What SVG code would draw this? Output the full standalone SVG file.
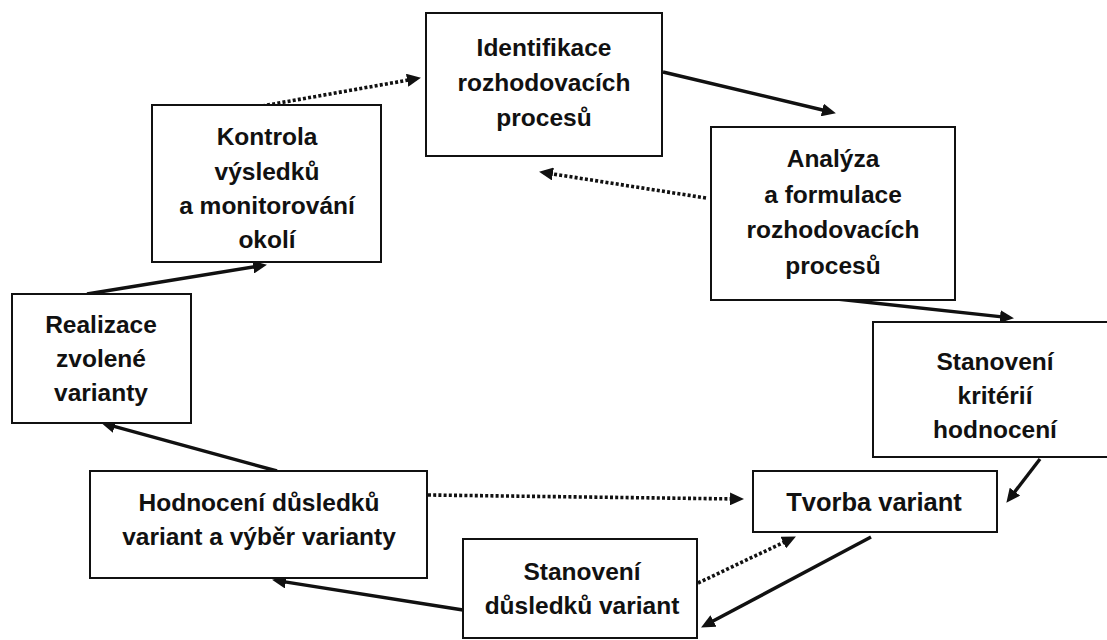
<svg xmlns="http://www.w3.org/2000/svg" width="1107" height="640" viewBox="0 0 1107 640">
<style>
.box{fill:#fff;stroke:#111;stroke-width:2}
.t{font-family:"Liberation Sans",Arial,sans-serif;font-weight:bold;font-size:24.5px;fill:#111;text-anchor:middle;dominant-baseline:central}
.solid{fill:none;stroke:#111;stroke-width:3.4;marker-end:url(#ah)}
.dot{fill:none;stroke:#111;stroke-width:3.6;stroke-dasharray:3 2.2;marker-end:url(#ah)}
</style>
<defs>
<marker id="ah" markerUnits="userSpaceOnUse" markerWidth="15" markerHeight="13" refX="9" refY="6.5" orient="auto">
<path d="M0,0 L14,6.5 L0,13 z" fill="#111"/>
</marker>
</defs>
<rect width="1107" height="640" fill="#fff"/>
<g id="connectors">
<line class="solid" x1="663" y1="72" x2="831" y2="112"/>
<line class="solid" x1="837" y1="299" x2="1009" y2="317.6"/>
<line class="solid" x1="1040" y1="459" x2="1009.4" y2="498.8"/>
<line class="solid" x1="871" y1="537" x2="705.5" y2="625.1"/>
<line class="solid" x1="463" y1="610" x2="277" y2="580.6"/>
<line class="solid" x1="277" y1="471" x2="105.9" y2="424.1"/>
<line class="solid" x1="87" y1="294" x2="262" y2="265.6"/>
<line class="dot" x1="262" y1="106" x2="416" y2="78.7"/>
<line class="dot" x1="706" y1="198" x2="544" y2="172.6"/>
<line class="dot" x1="428" y1="495" x2="739" y2="499"/>
<line class="dot" x1="698" y1="583" x2="791.4" y2="538.7"/>
</g>
<g id="identifikace">
<rect class="box" x="426" y="13" width="236" height="143"/>
<text class="t" x="544" y="47">Identifikace</text>
<text class="t" x="544" y="82">rozhodovacích</text>
<text class="t" x="544" y="117">procesů</text>
</g>
<g id="analyza">
<rect class="box" x="711" y="127" width="244" height="173"/>
<text class="t" x="833" y="158">Analýza</text>
<text class="t" x="833" y="194">a formulace</text>
<text class="t" x="833" y="229">rozhodovacích</text>
<text class="t" x="833" y="265">procesů</text>
</g>
<g id="kriteria">
<rect class="box" x="873" y="322" width="250" height="135"/>
<text class="t" x="995" y="361">Stanovení</text>
<text class="t" x="995" y="395">kritérií</text>
<text class="t" x="995" y="429">hodnocení</text>
</g>
<g id="tvorba">
<rect class="box" x="753" y="471" width="244" height="61"/>
<text class="t" x="874" y="502" style="font-size:25.5px">Tvorba variant</text>
</g>
<g id="dusledky">
<rect class="box" x="463" y="539" width="234" height="99"/>
<text class="t" x="582" y="571">Stanovení</text>
<text class="t" x="582" y="605">důsledků variant</text>
</g>
<g id="hodnoceni">
<rect class="box" x="90" y="471" width="337" height="107"/>
<text class="t" x="259" y="502">Hodnocení důsledků</text>
<text class="t" x="259" y="536">variant a výběr varianty</text>
</g>
<g id="realizace">
<rect class="box" x="12" y="294" width="179" height="129"/>
<text class="t" x="101" y="324">Realizace</text>
<text class="t" x="101" y="358">zvolené</text>
<text class="t" x="101" y="392">varianty</text>
</g>
<g id="kontrola">
<rect class="box" x="152" y="105" width="229" height="157"/>
<text class="t" x="267" y="136">Kontrola</text>
<text class="t" x="267" y="171">výsledků</text>
<text class="t" x="267" y="205">a monitorování</text>
<text class="t" x="267" y="239">okolí</text>
</g>
</svg>
